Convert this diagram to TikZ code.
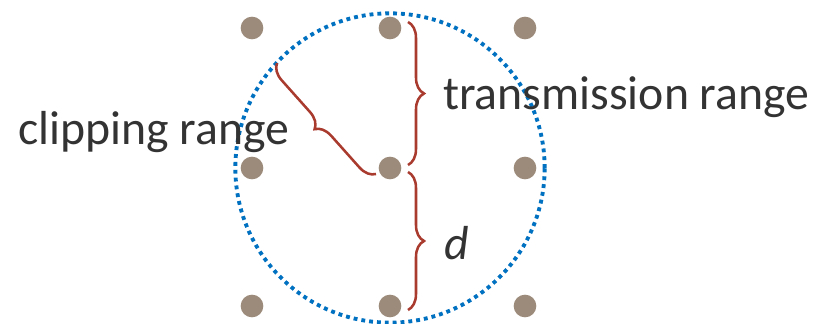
\documentclass[tikz,border=0pt]{standalone}
\usepackage{fontspec}
\setmainfont{Carlito}
\usetikzlibrary{calc,decorations.pathreplacing}
\definecolor{dotbrown}{HTML}{9C8B7A}
\definecolor{rangeblue}{HTML}{0070C0}
\definecolor{bracered}{HTML}{A93A2E}
\definecolor{labelgray}{HTML}{333333}

\begin{document}
\begin{tikzpicture}[
    x=0.75pt, y=-0.75pt,
    font=\fontsize{35.8}{42}\selectfont,
    station/.style={circle, fill=dotbrown, inner sep=0pt, minimum size=17pt},
    rangering/.style={rangeblue, line width=2.9pt, dash pattern=on 2.9pt off 3pt},
    spanbrace/.style={bracered, line width=1.9pt, decorate, decoration={brace, amplitude=12pt}},
    lbl/.style={anchor=west, inner sep=0pt, text=labelgray}
]
    \useasboundingbox (0,0) rectangle (818,324);
    \draw[rangering] (390,168) circle[radius=116pt];
    \foreach \col/\x in {1/252, 2/390, 3/525}
      \foreach \row/\y in {1/28, 2/168, 3/306}
        \node[station] (s\col\row) at (\x,\y) {};

    \coordinate (rim) at (277,63);
    \draw[spanbrace] ($(s21)+(18,-6)$) -- ($(s22)+(18,-3)$);
    \draw[spanbrace] ($(s22)+(18,4)$) -- ($(s23)+(18,4)$);
    \draw[spanbrace] ($(s22)+(-14,6)$) -- (rim);

    \node[lbl] (trange) at (443,97) {transmission range};
    \node[lbl] (crange) at (18,132) {clipping range};
    \node[lbl] (dist) at (444,243) {\itshape d};
\end{tikzpicture}
\end{document}
